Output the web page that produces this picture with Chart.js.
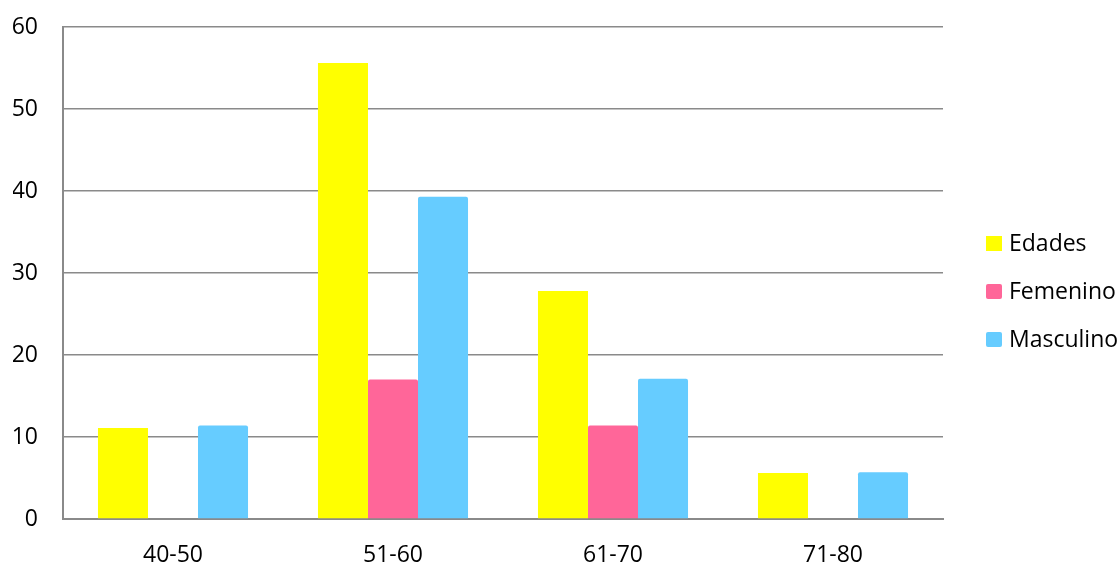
<!DOCTYPE html>
<html>
<head>
<meta charset="utf-8">
<title>Edades por sexo</title>
<script src="https://cdn.jsdelivr.net/npm/chart.js@4/dist/chart.umd.min.js"></script>
<style>
  html, body { margin: 0; padding: 0; background: #fff; }
  #wrap { width: 1120px; height: 564px; position: relative; }
</style>
</head>
<body>
<div id="wrap"><canvas id="edadesChart"></canvas></div>
<script>
// age groups and percentages per series
const grupos = ['40-50', '51-60', '61-70', '71-80'];
const edades = [11.1, 55.6, 27.8, 5.6];
const femenino = [0, 17, 11.4, 0];
const masculino = [11.4, 39.3, 17.1, 5.7];
const yTicks = [0, 10, 20, 30, 40, 50, 60];

const FONT = '"Open Sans", "Noto Sans", sans-serif';
const GRID = '#8a8a8a';

// legend on the right, drawn by hand so boxes and text sit where we want
const sideLegend = {
    id: 'sideLegend',
    afterDraw(chart) {
        const ctx = chart.ctx;
        const area = chart.chartArea;
        const x = area.right + 43;
        const mid = (area.top + area.bottom) / 2 + 19;
        const gap = 48;
        const sets = chart.data.datasets;
        ctx.save();
        ctx.font = '23px ' + FONT;
        ctx.textBaseline = 'middle';
        ctx.textAlign = 'left';
        sets.forEach((ds, i) => {
            const y = mid + (i - (sets.length - 1) / 2) * gap;
            ctx.fillStyle = ds.backgroundColor;
            ctx.beginPath();
            ctx.roundRect(x, y - 8, 16, 15, i === 0 ? 0 : 2);
            ctx.fill();
            ctx.fillStyle = '#000';
            ctx.fillText(ds.label, x + 23, y);
        });
        ctx.restore();
    }
};

const ctx = document.getElementById('edadesChart').getContext('2d');
const chart = new Chart(ctx, {
    type: 'bar',
    data: {
        labels: grupos,
        datasets: [
            { label: 'Edades', data: edades, backgroundColor: '#FFFF00', borderRadius: 0 },
            { label: 'Femenino', data: femenino, backgroundColor: '#FF6699', borderRadius: 2 },
            { label: 'Masculino', data: masculino, backgroundColor: '#66CCFF', borderRadius: 2 }
        ]
    },
    options: {
        responsive: true,
        maintainAspectRatio: false,
        animation: false,
        layout: { padding: { left: 13, top: 27, right: 177, bottom: 0 } },
        datasets: {
            bar: { categoryPercentage: 0.682, barPercentage: 1, borderSkipped: 'bottom' }
        },
        plugins: {
            legend: { display: false },
            tooltip: { enabled: false }
        },
        scales: {
            x: {
                afterFit(axis) {
                    axis.height = 45;
                    axis.paddingLeft = 0;
                    axis.paddingRight = 0;
                },
                grid: { display: false, drawTicks: false },
                border: { display: true, color: GRID, width: 2 },
                ticks: { color: '#000', padding: 23, font: { family: FONT, size: 23 } }
            },
            y: {
                min: 0,
                max: 60,
                afterBuildTicks(axis) {
                    axis.ticks = yTicks.map(v => ({ value: v }));
                },
                afterFit(axis) {
                    // keep the label overhang from pushing the plot down
                    axis.width = 50;
                    axis.paddingTop = 0;
                    axis.paddingBottom = 0;
                },
                grid: { color: GRID, lineWidth: 1.5, drawTicks: false },
                border: { display: true, color: GRID, width: 2 },
                ticks: { color: '#000', padding: 25, font: { family: FONT, size: 23 } }
            }
        }
    },
    plugins: [sideLegend]
});
</script>
</body>
</html>
